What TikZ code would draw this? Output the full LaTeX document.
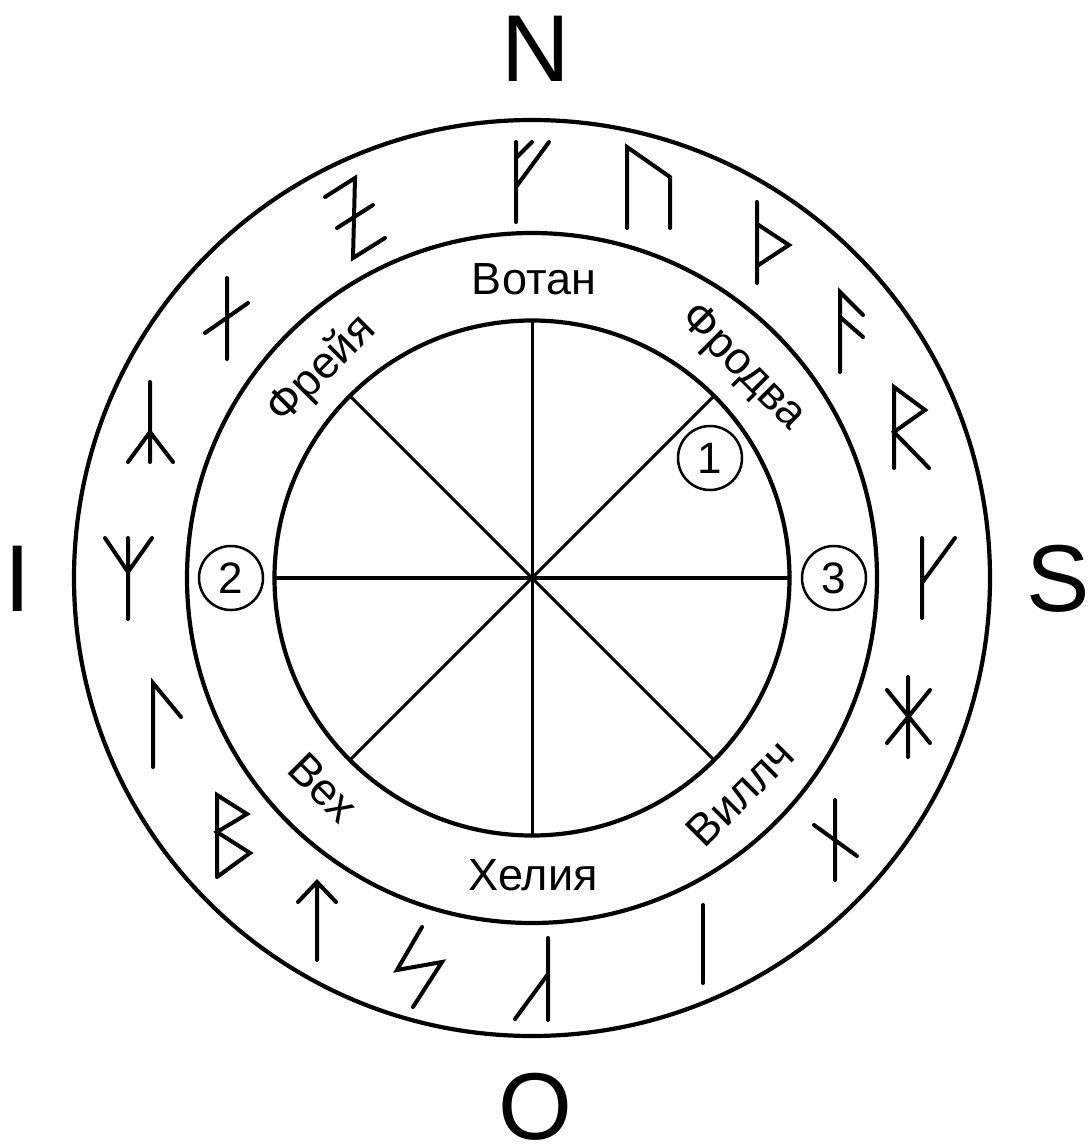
\documentclass[tikz,border=0pt]{standalone}
\usepackage{fontspec}
\setmainfont{Liberation Sans}
\begin{document}
\begin{tikzpicture}[x=1pt,y=-1pt,
  ring/.style={draw,circle,line width=4.2pt,inner sep=0pt,outer sep=0pt},
  spoke/.style={line width=3pt},
  rune/.style={line width=4pt,line cap=round,line join=miter},
  compass/.style={font=\fontsize{95}{95}\selectfont,inner sep=0pt},
  godname/.style={font=\fontsize{45}{45}\selectfont,inner sep=0pt},
  num/.style={draw,circle,line width=2.5pt,minimum size=64pt,inner sep=0pt,font=\fontsize{44}{44}\selectfont}]
\useasboundingbox (0,0) rectangle (1088,1146);
\fill[white] (0,0) rectangle (1088,1146);
\coordinate (c) at (532,578);
% rings
\node[ring,minimum size=916pt] (outer) at (c) {};
\node[ring,minimum size=690pt] (middle) at (c) {};
\node[ring,minimum size=515pt] (inner) at (c) {};
% spokes
\draw[spoke] (inner.90) -- (inner.270);
\draw[spoke] (inner.45) -- (inner.225);
\draw[spoke] (inner.135) -- (inner.315);
\draw[line width=4.5pt] (inner.0) -- (inner.180);
% compass letters
\node[compass] (n) at (536,49) {N};
\node[compass] (w) at (18,579) {I};
\node[compass] (e) at (1058,579) {S};
\node[compass] (s) at (535,1107) {O};
% names
\node[godname] (wotan) at (534,279) {Вотан};
\node[godname] (helia) at (533,875) {Хелия};
\node[godname,rotate=-45] (frodva) at (742,368) {Фродва};
\node[godname,rotate=45] (freya) at (322,370) {Фрейя};
\node[godname,rotate=-45] (weh) at (323,788) {Вех};
\node[godname,rotate=45] (willch) at (740,793) {Виллч};
% numbers
\node[num] (one) at (710,458) {1};
\node[num] (two) at (231,578) {2};
\node[num] (three) at (834,578) {3};
% runes
\draw[rune] (516,222) -- (516,142) (516,158) -- (532,142) (516,187) -- (549,142); % Fa
\draw[rune] (627,228) -- (627,147) -- (670,177) -- (670,228); % Ur
\draw[rune] (757,202) -- (757,283) (757,224) -- (789,245) -- (757,266); % Thorn
\draw[rune] (840,372) -- (840,292) -- (863,315) (840,317) -- (863,337); % Os
\draw[rune] (894,468) -- (894,387) -- (925,410) -- (894,432) -- (929,468); % Rit
\draw[rune] (922,618) -- (922,538) (922,583) -- (955,538); % Ka
\draw[rune] (908,677) -- (908,757) (887,690) -- (930,743) (930,690) -- (887,743); % Hagal
\draw[rune] (835,800) -- (835,880) (814,825) -- (857,856); % Not
\draw[rune] (703,905) -- (703,983); % Is
\draw[rune] (548,938) -- (548,1020) (548,974) -- (515,1019); % Ar
\draw[rune] (422,927) -- (397,970) -- (442,962) -- (413,1007); % Sig
\draw[rune] (317,960) -- (317,882) (298,902) -- (317,882) -- (336,902); % Tyr
\draw[rune] (217,877) -- (217,795) -- (247,814) -- (217,832) -- (250,853) -- (217,877); % Bar
\draw[rune] (153,767) -- (153,683) -- (181,717); % Laf
\draw[rune] (128,619) -- (128,538) (105,538) -- (128,572) -- (152,538); % Man
\draw[rune] (150,382) -- (150,462) (128,462) -- (150,432) -- (173,462); % Yr
\draw[rune] (227,278) -- (227,359) (205,333) -- (248,303); % Eh
\draw[rune] (325,197) -- (355,178) -- (353,258) -- (385,238) (337,228) -- (373,205); % Gibor
\end{tikzpicture}
\end{document}
